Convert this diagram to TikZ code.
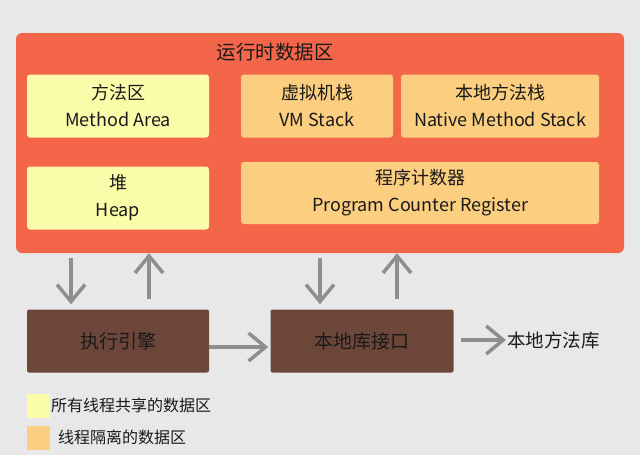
\documentclass[tikz,border=0pt]{standalone}
\usepackage{fontspec}
\setmainfont{Noto Sans CJK SC}
\usetikzlibrary{arrows.meta,calc}

\definecolor{bggray}{HTML}{E8E8E8}
\definecolor{areared}{HTML}{F4664A}
\definecolor{sharedyellow}{HTML}{FAFCAA}
\definecolor{privateorange}{HTML}{FBCE80}
\definecolor{enginebrown}{HTML}{6D463A}
\definecolor{flowgray}{HTML}{8E8E8E}
\definecolor{inkblack}{HTML}{1A1A1A}

\tikzset{
  region/.style={rectangle, rounded corners=3pt, inner sep=0pt, text=inkblack,
    align=center, font=\fontsize{18}{27}\selectfont},
  shared/.style={region, fill=sharedyellow},
  private/.style={region, fill=privateorange},
  engine/.style={rectangle, rounded corners=2pt, fill=enginebrown, text=inkblack,
    minimum width=182pt, minimum height=63pt, inner sep=0pt,
    font=\fontsize{19}{22}\selectfont},
  flow/.style={draw=flowgray, line width=3.5pt,
    -{Straight Barb[length=17pt,width=28pt]}},
  swatch/.style={rectangle, inner sep=0pt, minimum width=23pt, minimum height=24pt},
  legendtext/.style={anchor=west, inner sep=0pt, text=inkblack,
    font=\fontsize{16}{18}\selectfont},
}

\begin{document}
\begin{tikzpicture}[x=1pt,y=-1pt]
  % canvas
  \fill[bggray] (0,0) rectangle (640,455);
  \useasboundingbox (0,0) rectangle (640,455);

  % runtime data area
  \node[rectangle, rounded corners=6pt, fill=areared, minimum width=608pt,
        minimum height=220pt, inner sep=0pt] (runtime) at (320,143) {};
  \node[text=inkblack, font=\fontsize{19.5}{22}\selectfont] (title) at (275,52) {运行时数据区};

  \node[shared, minimum width=182pt, minimum height=63pt] (method) at (118,106)
    {方法区\\Method Area};
  \node[private, minimum width=152pt, minimum height=63pt] (vmstack) at (317,106)
    {虚拟机栈\\VM Stack};
  \node[private, minimum width=198pt, minimum height=63pt] (native) at (500,106)
    {本地方法栈\\Native Method Stack};
  \node[shared, minimum width=182pt, minimum height=63pt] (heap) at (118,198)
    {堆\\Heap};
  \node[private, minimum width=358pt, minimum height=62pt] (pc) at (420,193)
    {程序计数器\\Program Counter Register};

  % execution engine and native interface
  \node[engine] (exec) at (118,341) {执行引擎};
  \node[engine, minimum width=183pt] (iface) at (362,341) {本地库接口};
  \node[anchor=west, inner sep=0pt, text=inkblack, font=\fontsize{18.5}{22}\selectfont]
    (nativelib) at (507,340) {本地方法库};

  % data flow between the runtime area and the lower boxes
  \coordinate (d1) at ($(exec.north)+(-47,0)$);
  \coordinate (u1) at ($(exec.north)+(31,0)$);
  \coordinate (d2) at ($(iface.north)+(-42,0)$);
  \coordinate (u2) at ($(iface.north)+(35,0)$);
  \draw[flow, shorten <=5pt, shorten >=5pt] (d1 |- runtime.south) -- (d1);
  \draw[flow, shorten <=10pt] (u1) -- (u1 |- runtime.south);
  \draw[flow, shorten <=5pt, shorten >=5pt] (d2 |- runtime.south) -- (d2);
  \draw[flow, shorten <=10pt] (u2) -- (u2 |- runtime.south);

  \coordinate (h1) at ($(exec.east)+(0,6)$);
  \draw[flow, shorten >=2pt] (h1) -- (h1 -| iface.west);
  \draw[flow, shorten <=7pt, shorten >=1pt] (iface.east |- nativelib.west) -- (nativelib.west);

  % legend
  \node[swatch, fill=sharedyellow] (keyshared) at (38.5,406) {};
  \node[legendtext] (keysharedtext) at (51,405) {所有线程共享的数据区};
  \node[swatch, fill=privateorange] (keyprivate) at (38.5,438) {};
  \node[legendtext] (keyprivatetext) at (58,437) {线程隔离的数据区};
\end{tikzpicture}
\end{document}
